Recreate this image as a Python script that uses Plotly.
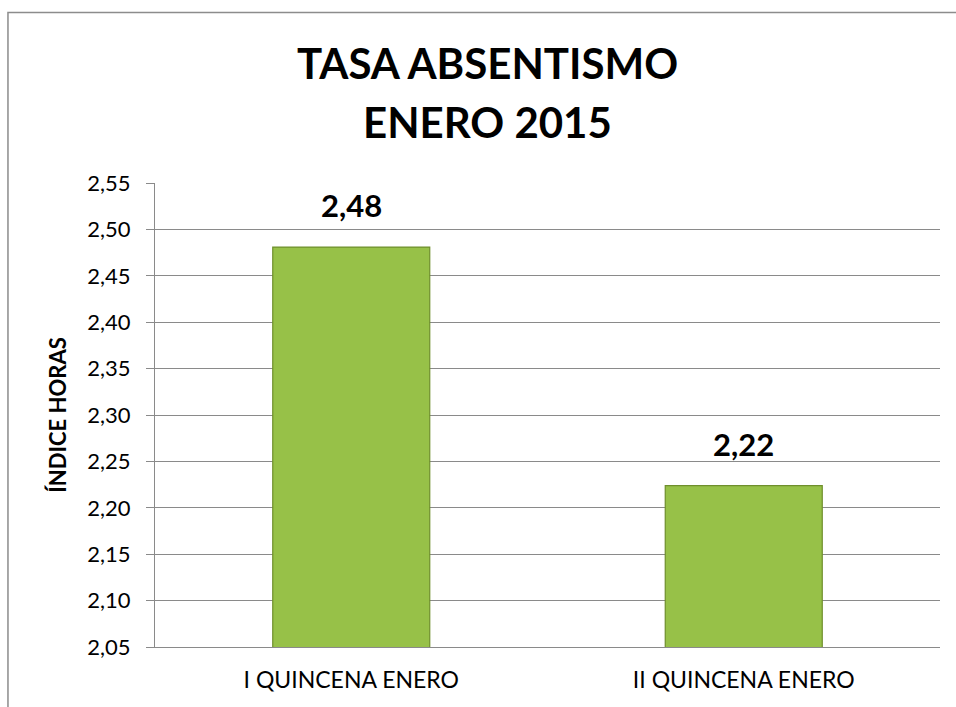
import plotly.graph_objects as go

categories = ["I QUINCENA ENERO", "II QUINCENA ENERO"]
values = [2.481, 2.224]
tick_vals = [2.05, 2.10, 2.15, 2.20, 2.25, 2.30, 2.35, 2.40, 2.45, 2.50, 2.55]
tick_text = ["2,05", "2,10", "2,15", "2,20", "2,25", "2,30", "2,35", "2,40", "2,45", "2,50", "2,55"]
title_lines = ["TASA ABSENTISMO", "ENERO 2015"]
y_title = "ÍNDICE HORAS"

FONT = "Lato"
GRID = "#8a8a8a"

fig = go.Figure()
fig.add_trace(go.Bar(
    x=categories,
    y=values,
    base=0,
    marker=dict(color="#97c148", line=dict(color="#6f8f2c", width=1.2)),
    hoverinfo="x+y",
))

# value labels
for c, v in zip(categories, values):
    fig.add_annotation(
        x=c, y=v, xref="x", yref="y",
        text="<b>" + f"{v:.2f}".replace(".", ",") + "</b>",
        showarrow=False, yanchor="bottom", yshift=21,
        font=dict(family=FONT, size=31, color="#000000"),
    )

# title lines
fig.add_annotation(x=0.423, y=1.2596, xref="paper", yref="paper",
                   text="<b>" + title_lines[0] + "</b>", showarrow=False,
                   xanchor="center", yanchor="middle",
                   font=dict(family=FONT, size=42, color="#000000"))
fig.add_annotation(x=0.423, y=1.1323, xref="paper", yref="paper",
                   text="<b>" + title_lines[1] + "</b>", showarrow=False,
                   xanchor="center", yanchor="middle",
                   font=dict(family=FONT, size=42, color="#000000"))

# outer chart border (left and top edges visible, others run off the page)
fig.add_shape(type="rect", xref="paper", yref="paper",
              x0=-0.1873, x1=1.08, y0=-0.16, y1=1.3675,
              line=dict(color="#8c8c8c", width=1.5), fillcolor="rgba(0,0,0,0)",
              layer="below")

fig.update_layout(
    width=956, height=707, autosize=False,
    margin=dict(l=155, r=16, t=183, b=60),
    paper_bgcolor="white", plot_bgcolor="white",
    showlegend=False,
    bargap=0.6,
    font=dict(family=FONT, color="#000000"),
    xaxis=dict(
        type="category",
        showgrid=False,
        showline=True, linecolor=GRID, linewidth=1.2,
        ticks="", tickfont=dict(family=FONT, size=23, color="#000000"),
        ticklabelstandoff=12,
    ),
    yaxis=dict(
        range=[2.05, 2.55],
        tickvals=tick_vals, ticktext=tick_text,
        showgrid=True, gridcolor=GRID, gridwidth=1.2,
        showline=True, linecolor=GRID, linewidth=1.2,
        ticks="outside", ticklen=8, tickcolor=GRID, tickwidth=1.2,
        tickfont=dict(family=FONT, size=22, color="#000000"),
        ticklabelstandoff=11,
        zeroline=False,
        title=dict(text="<b>" + y_title + "</b>", standoff=14,
                   font=dict(family=FONT, size=22, color="#000000")),
    ),
)

fig.write_html(
    "out.html",
    config={"displayModeBar": False},
    post_script="document.body.style.margin='0';document.body.style.overflow='hidden';",
)
